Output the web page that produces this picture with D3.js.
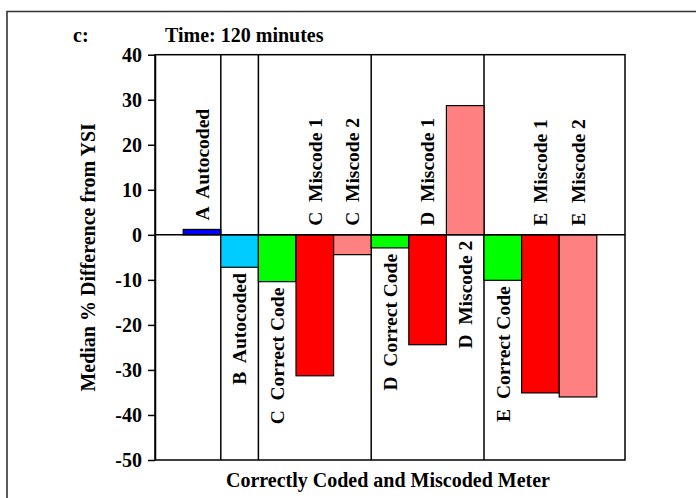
<!DOCTYPE html>
<html>
<head>
<meta charset="utf-8">
<script src="https://cdn.jsdelivr.net/npm/d3@7"></script>
<style>
  body { margin: 0; background: #fff; }
  text { font-family: "Liberation Serif", "Times New Roman", serif; font-weight: bold; fill: #000; }
</style>
</head>
<body>
<script>
var width = 696,
    height = 498;

// chart data
var categories = ["A  Autocoded", "B  Autocoded", "C  Correct Code", "C  Miscode 1", "C  Miscode 2",
                  "D  Correct Code", "D  Miscode 1", "D  Miscode 2",
                  "E  Correct Code", "E  Miscode 1", "E  Miscode 2"];
var codeTypes = ["A Autocoded", "B Autocoded", "Correct Code", "Miscode 1", "Miscode 2",
                 "Correct Code", "Miscode 1", "Miscode 2",
                 "Correct Code", "Miscode 1", "Miscode 2"];
var medianDiff = [1.2, -7.2, -10.4, -31.3, -4.4, -2.9, -24.4, 28.7, -10.1, -35.1, -36.0];
var yTicks = [40, 30, 20, 10, 0, -10, -20, -30, -40, -50];
// labels that hang below the zero line
var labelsBelow = ["B  Autocoded", "C  Correct Code", "D  Correct Code", "D  Miscode 2", "E  Correct Code"];
// last bar of each meter group (divider drawn after it)
var groupEnds = ["A  Autocoded", "B  Autocoded", "C  Miscode 2", "D  Miscode 2"];

var typeColors = d3.scaleOrdinal()
    .domain(["A Autocoded", "B Autocoded", "Correct Code", "Miscode 1", "Miscode 2"])
    .range(["#0000FF", "#00CCFF", "#00FF00", "#FF0000", "#FF8080"]);

var rows = categories.map(function (c, i) {
    return { name: c, type: codeTypes[i], value: medianDiff[i] };
});

var plot = { left: 155, right: 625, top: 54.7, bottom: 460 };

var svg = d3.select('body').append('svg')
    .attr('width', width)
    .attr('height', height);

// outer frame (runs off the right and bottom edges)
svg.append('path')
    .attr('d', 'M7,' + height + 'V11.5H' + width)
    .attr('fill', 'none')
    .attr('stroke', '#333')
    .attr('stroke-width', 1.6);

var x = d3.scaleBand()
    .domain(categories)
    .range([plot.left, plot.right])
    .paddingInner(0)
    .paddingOuter(0.75);

var y = d3.scaleLinear()
    .domain([-50, 40])
    .range([plot.bottom, plot.top]);

// plot box
svg.append('rect')
    .attr('x', plot.left)
    .attr('y', plot.top)
    .attr('width', plot.right - plot.left)
    .attr('height', plot.bottom - plot.top)
    .attr('fill', 'none')
    .attr('stroke', '#000')
    .attr('stroke-width', 1.5);

// group dividers
svg.selectAll('line.divider')
    .data(groupEnds)
    .enter().append('line')
    .attr('class', 'divider')
    .attr('x1', function (d) { return x(d) + x.bandwidth(); })
    .attr('x2', function (d) { return x(d) + x.bandwidth(); })
    .attr('y1', plot.top)
    .attr('y2', plot.bottom)
    .attr('stroke', '#000')
    .attr('stroke-width', 1.5);

// bars
svg.selectAll('rect.bar')
    .data(rows)
    .enter().append('rect')
    .attr('class', 'bar')
    .attr('x', function (d) { return x(d.name); })
    .attr('width', x.bandwidth())
    .attr('y', function (d) { return y(Math.max(0, d.value)); })
    .attr('height', function (d) { return Math.abs(y(d.value) - y(0)); })
    .attr('fill', function (d) { return typeColors(d.type); })
    .attr('stroke', '#000')
    .attr('stroke-width', 1.2);

// zero line
svg.append('line')
    .attr('x1', plot.left)
    .attr('x2', plot.right)
    .attr('y1', y(0))
    .attr('y2', y(0))
    .attr('stroke', '#000')
    .attr('stroke-width', 1.5);

// y axis, plain hyphen for negatives like the original
var yAxis = svg.append('g')
    .attr('transform', 'translate(' + plot.left + ',0)')
    .call(d3.axisLeft(y).tickValues(yTicks)
        .tickFormat(function (d) { return String(d); })
        .tickSize(7).tickSizeOuter(0).tickPadding(6));
yAxis.select('.domain').attr('stroke', '#000').attr('stroke-width', 1.5);
yAxis.selectAll('.tick line').attr('stroke', '#000').attr('stroke-width', 1.5);
yAxis.selectAll('.tick text')
    .attr('font-family', null)
    .style('font-size', '20px');

// bar labels, rotated
svg.selectAll('text.barlabel')
    .data(rows)
    .enter().append('text')
    .attr('class', 'barlabel')
    .style('font-size', '19.5px')
    .style('white-space', 'pre')
    .attr('text-anchor', function (d) { return labelsBelow.indexOf(d.name) >= 0 ? 'end' : 'start'; })
    .attr('dy', '0.35em')
    .attr('transform', function (d) {
        var cx = x(d.name) + x.bandwidth() / 2;
        var below = labelsBelow.indexOf(d.name) >= 0;
        var cy = below ? y(Math.min(0, d.value)) + 6 : y(Math.max(0, d.value)) - 9;
        return 'translate(' + cx + ',' + cy + ') rotate(-90)';
    })
    .text(function (d) { return d.name; });

// titles
svg.append('text')
    .attr('x', 73)
    .attr('y', 41.5)
    .style('font-size', '20px')
    .text('c:');

svg.append('text')
    .attr('x', 165)
    .attr('y', 41.5)
    .style('font-size', '20px')
    .text('Time: 120 minutes');

svg.append('text')
    .attr('transform', 'translate(95,' + ((plot.top + plot.bottom) / 2) + ') rotate(-90)')
    .attr('text-anchor', 'middle')
    .style('font-size', '20px')
    .text('Median % Difference from YSI');

svg.append('text')
    .attr('x', (plot.left + plot.right) / 2 - 2)
    .attr('y', 486.5)
    .attr('text-anchor', 'middle')
    .style('font-size', '20px')
    .text('Correctly Coded and Miscoded Meter');
</script>
</body>
</html>
